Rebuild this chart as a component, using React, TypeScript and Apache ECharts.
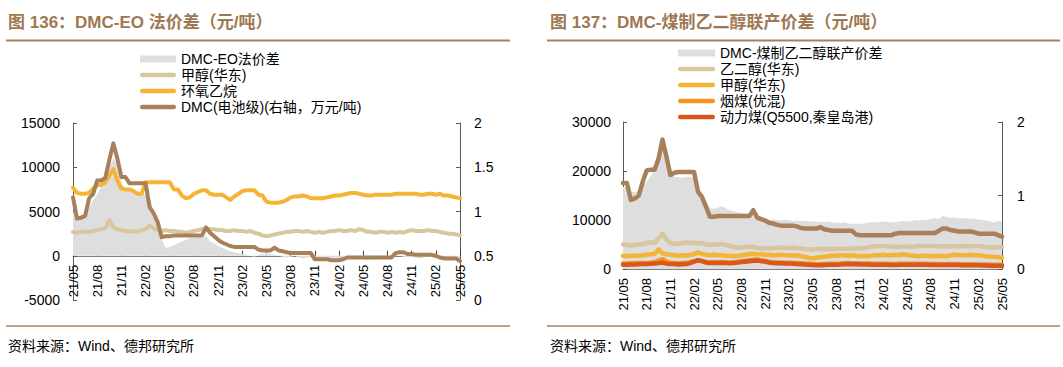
import React, { useEffect, useRef } from "react";
import * as echarts from "echarts";

const FONT = '"Liberation Sans", Arial, "Noto Sans CJK SC", sans-serif';
const TITLE_COLOR = "#9e7852";
const RULE_COLOR = "#a8825e";

// Months from 21/05 to 25/05; two observations per month (semi-monthly)
const startYear = 2021;
const startMonth = 5;
const monthCount = 49;
const categories: string[] = [];
for (let k = 0; k < monthCount; k++) {
  const m0 = startMonth - 1 + k;
  const yy = String((startYear + Math.floor(m0 / 12)) % 100).padStart(2, "0");
  const mm = String((m0 % 12) + 1).padStart(2, "0");
  categories.push(`${yy}/${mm}-1`);
  if (k < monthCount - 1) categories.push(`${yy}/${mm}-2`);
}

// ---------- Left chart: DMC-EO ----------
const leftSpread = [
  5000, 4200, 4300, 4500, 5500, 6300, 6900, 7800, 9000, 10000, 11000, 10500,
  8200, 7600, 7400, 7400, 7300, 7100, 6900, 6700, 4800, 3700, 1800, 900,
  1000, 1200, 1400, 1600, 1800, 2000, 2000, 2100, 2000, 2300, 1600, 1400,
  1100, 900, 700, 500, 400, 300, 200, 100, 0, -100, 100, 200,
  300, 200, 100, 0, -100, -200, -100, 0, -200, -300, -200, -100,
  -300, -400, -300, -400, -300, -200, -300, -200, -100, -200, -300, -400,
  -300, -500, -400, -300, -200, -100, -200, -100, 100, 0, -100, -200,
  -100, -200, -300, -200, -100, -200, -300, -200, -300, -400, -300, -200,
  -300,
];
const methanol = [
  2700, 2600, 2700, 2700, 2700, 2800, 2900, 3000, 3100, 4000, 3200, 3000,
  2900, 2800, 2700, 2800, 2700, 2900, 3000, 3400, 3100, 2900, 2800, 2900,
  2800, 2800, 2700, 2700, 2600, 2700, 2800, 2900, 3000, 3100, 3000, 3000,
  2900, 2900, 2800, 2800, 2900, 2800, 2800, 2700, 2800, 2600, 2500, 2300,
  2200, 2300, 2400, 2500, 2600, 2700, 2700, 2800, 2800, 2700, 2800, 2700,
  2600, 2700, 2600, 2700, 2800, 2800, 2900, 2800, 2800, 2900, 2800, 3000,
  2900, 2700, 2700, 2600, 2700, 2700, 2600, 2700, 2600, 2700, 2600, 2800,
  2900, 2800, 2800, 2800, 2900, 2800, 2800, 2700, 2600, 2500, 2500, 2400,
  2300,
];
const ethyleneOxide = [
  7700, 7100, 7000, 7000, 7100, 7600, 8000, 8000, 8300, 9000, 9800, 8500,
  7600, 7500, 7500, 7300, 7000, 7000, 8300, 8300, 8300, 8300, 8300, 8300,
  8300, 7500, 7500, 6800, 6500, 6600, 7000, 7200, 7400, 7400, 7000, 6900,
  6900, 6900, 6600, 6300, 6700, 7000, 7300, 7400, 7400, 7400, 6900, 6800,
  6100, 6000, 6000, 6000, 6100, 6300, 6600, 6700, 6700, 6800, 6700, 6500,
  6500, 6500, 6500, 6600, 6700, 6800, 6800, 6900, 7000, 7100, 7100, 7000,
  6900, 6800, 6800, 6900, 6900, 6900, 6900, 6900, 7000, 7000, 7000, 7000,
  7000, 7000, 6900, 6900, 7000, 7000, 6900, 7000, 6800, 6800, 6700, 6600,
  6500,
];
const leftDMC = [
  1.16, 0.92, 0.93, 0.95, 1.15, 1.2, 1.35, 1.35, 1.38, 1.58, 1.77, 1.6,
  1.39, 1.39, 1.32, 1.32, 1.32, 1.32, 1.32, 1.05, 0.98, 0.88, 0.71, 0.72,
  0.72, 0.73, 0.73, 0.73, 0.73, 0.73, 0.73, 0.73, 0.73, 0.82, 0.76, 0.72,
  0.68, 0.65, 0.63, 0.61, 0.6, 0.6, 0.6, 0.6, 0.6, 0.6, 0.57, 0.56,
  0.56, 0.56, 0.59, 0.56, 0.55, 0.54, 0.53, 0.53, 0.53, 0.53, 0.53, 0.53,
  0.46, 0.46, 0.46, 0.46, 0.45, 0.45, 0.45, 0.46, 0.48, 0.48, 0.48, 0.48,
  0.48, 0.48, 0.48, 0.48, 0.48, 0.48, 0.48, 0.48, 0.53, 0.54, 0.54, 0.52,
  0.52, 0.51, 0.51, 0.51, 0.51, 0.51, 0.5, 0.48, 0.47, 0.47, 0.47, 0.47,
  0.44,
];

// ---------- Right chart: DMC-coal-based EG ----------
const rightSpread = [
  16800, 16500, 15800, 15600, 16000, 17000, 17800, 19000, 20500, 22000, 24300, 23500,
  20000, 18800, 18800, 18600, 18800, 18800, 18700, 17500, 15000, 13800, 12500, 12300,
  12500, 12800, 12400, 12000, 11800, 11600, 11500, 11300, 11300, 11200, 11000, 10600,
  10200, 10000, 10100, 10000, 9900, 10000, 10000, 9800, 9900, 9800, 9800, 9700,
  9700, 9700, 9600, 9600, 9700, 9500, 9500, 9400, 9500, 9300, 9200, 9300,
  9200, 9300, 9500, 9600, 9500, 9600, 9700, 9600, 9500, 9600, 9700, 9800,
  9700, 9800, 10000, 9900, 10100, 10000, 10200, 10400, 10200, 10800, 10600, 10400,
  10500, 10300, 10400, 10300, 10200, 10300, 10100, 10000, 9900, 9700, 9500, 9800,
  9700,
];
const ethyleneGlycol = [
  5000, 4900, 4800, 4900, 5000, 5100, 5300, 5400, 5300, 6200, 7200, 6000,
  5300, 5100, 5200, 5300, 5400, 5300, 5400, 5200, 5300, 5000, 4900, 5000,
  5000, 5100, 4900, 4700, 4500, 4300, 4400, 4500, 4600, 4500, 4300, 4200,
  4200, 4300, 4200, 4300, 4400, 4300, 4300, 4400, 4300, 4200, 4100, 4000,
  4000, 4100, 4100, 4000, 4100, 4100, 4100, 4200, 4100, 4100, 4200, 4200,
  4200, 4300, 4400, 4600, 4700, 4700, 4700, 4600, 4600, 4500, 4500, 4600,
  4600, 4500, 4600, 4700, 4700, 4700, 4700, 4700, 4600, 4700, 4600, 4600,
  4700, 4600, 4700, 4700, 4600, 4700, 4700, 4600, 4500, 4400, 4400, 4500,
  4500,
];
const bituminousCoal = [
  1100, 1100, 1150, 1150, 1200, 1250, 1250, 1300, 1400, 1700, 2000, 1500,
  1250, 1200, 1150, 1200, 1250, 1400, 1600, 1750, 1650, 1450, 1400, 1400,
  1400, 1450, 1400, 1350, 1400, 1500, 1600, 1700, 1800, 1900, 1950, 1800,
  1700, 1500, 1400, 1350, 1350, 1300, 1300, 1250, 1200, 1150, 1100, 1050,
  1000, 950, 980, 1020, 1050, 1070, 1080, 1100, 1150, 1200, 1180, 1150,
  1100, 1120, 1100, 1080, 1070, 1060, 1050, 1050, 1020, 1020, 1050, 1060,
  1080, 1080, 1070, 1060, 1050, 1050, 1040, 1030, 1020, 1030, 1040, 1030,
  1020, 1000, 980, 960, 960, 950, 940, 920, 900, 880, 860, 850,
  840,
];
const thermalCoal = [
  850, 850, 900, 900, 950, 1000, 1000, 1050, 1100, 1200, 1300, 1100,
  1000, 1000, 900, 950, 1000, 1200, 1500, 1800, 1600, 1300, 1200, 1200,
  1200, 1250, 1200, 1150, 1200, 1300, 1400, 1500, 1600, 1700, 1750, 1600,
  1500, 1300, 1200, 1150, 1150, 1100, 1100, 1050, 1000, 950, 900, 850,
  800, 750, 780, 820, 850, 870, 880, 900, 950, 1000, 980, 950,
  900, 920, 900, 880, 870, 860, 850, 850, 820, 820, 850, 860,
  880, 880, 870, 860, 850, 850, 840, 830, 820, 830, 840, 830,
  820, 800, 780, 760, 760, 750, 740, 720, 700, 680, 660, 650,
  640,
];
const rightDMC = [
  1.17, 1.17, 0.94, 0.96, 1.0, 1.19, 1.34, 1.35, 1.35, 1.5, 1.76, 1.53,
  1.28, 1.31, 1.32, 1.32, 1.32, 1.32, 1.32, 1.05, 0.98, 0.85, 0.71, 0.71,
  0.72, 0.72, 0.72, 0.72, 0.72, 0.72, 0.72, 0.72, 0.72, 0.8, 0.7, 0.68,
  0.66, 0.63, 0.62, 0.6, 0.59, 0.59, 0.59, 0.59, 0.58, 0.56, 0.55, 0.55,
  0.55, 0.55, 0.57, 0.54, 0.53, 0.52, 0.52, 0.52, 0.52, 0.52, 0.52, 0.47,
  0.46, 0.46, 0.46, 0.46, 0.46, 0.46, 0.46, 0.46, 0.46, 0.48, 0.49, 0.49,
  0.49, 0.49, 0.49, 0.49, 0.49, 0.49, 0.49, 0.49, 0.52, 0.55, 0.55, 0.53,
  0.52, 0.51, 0.51, 0.51, 0.51, 0.5, 0.48, 0.48, 0.48, 0.48, 0.48, 0.46,
  0.44,
];

const AREA_ICON = "path://M0,0L36,0L36,7L0,7Z";
const LINE_ICON =
  "path://M2.25,0L33.75,0A2.25,2.25,0,0,1,33.75,4.5L2.25,4.5A2.25,2.25,0,0,1,2.25,0Z";

function xAxisCfg(offset: number) {
  return {
    type: "category",
    data: categories,
    boundaryGap: false,
    position: "bottom",
    offset,
    axisLine: { onZero: false, lineStyle: { color: "#808080", width: 1 } },
    axisTick: { show: true, inside: true, interval: 5, length: 5, lineStyle: { color: "#404040" } },
    axisLabel: {
      interval: 5,
      rotate: 90,
      fontSize: 13,
      color: "#000",
      margin: 9,
      fontFamily: FONT,
      formatter: (v: string) => v.slice(0, 5),
    },
    splitLine: { show: false },
  };
}

function yAxisCfg(min: number, max: number, interval: number, position: string, margin: number) {
  return {
    type: "value",
    min,
    max,
    interval,
    position,
    axisLine: { show: true, lineStyle: { color: "#595959", width: 1 } },
    axisTick: { show: true, inside: true, length: 4, lineStyle: { color: "#595959" } },
    axisLabel: {
      fontSize: 14,
      color: "#000",
      margin,
      fontFamily: FONT,
      formatter: (v: number) => String(v),
    },
    splitLine: { show: false },
  };
}

function lineSeries(name: string, data: number[], color: string, yAxisIndex: number, width: number) {
  return {
    name,
    type: "line",
    data,
    yAxisIndex,
    symbol: "none",
    showSymbol: false,
    color,
    itemStyle: { color },
    lineStyle: { color, width, cap: "round", join: "round" },
    z: 3,
  };
}

function areaSeries(name: string, data: number[], color: string) {
  return {
    name,
    type: "line",
    data,
    yAxisIndex: 0,
    symbol: "none",
    showSymbol: false,
    color,
    itemStyle: { color },
    lineStyle: { width: 0, color },
    areaStyle: { color, opacity: 1, origin: 0 },
    z: 1,
  };
}

function frameGraphics(title: string, x0: number, x1: number, tx: number) {
  return [
    {
      type: "text",
      x: tx,
      y: 22,
      style: {
        text: title,
        fill: TITLE_COLOR,
        fontSize: 17,
        fontWeight: "bold",
        fontFamily: FONT,
        verticalAlign: "middle",
        align: "left",
      },
    },
    {
      type: "line",
      shape: { x1: x0, y1: 40.5, x2: x1, y2: 40.5 },
      style: { stroke: RULE_COLOR, lineWidth: 2 },
    },
    {
      type: "line",
      shape: { x1: x0, y1: 326, x2: x1, y2: 326 },
      style: { stroke: RULE_COLOR, lineWidth: 1.5 },
    },
    {
      type: "text",
      x: tx,
      y: 346,
      style: {
        text: "资料来源：Wind、德邦研究所",
        fill: "#000",
        fontSize: 14,
        fontFamily: FONT,
        verticalAlign: "middle",
        align: "left",
      },
    },
  ];
}

function legendCfg(left: number, top: number, itemWidth: number, names: string[]) {
  return {
    orient: "vertical",
    left,
    top,
    padding: 0,
    itemWidth,
    itemHeight: 14,
    itemGap: 2,
    selectedMode: false,
    textStyle: { fontSize: 14, color: "#000", fontFamily: FONT },
    data: names.map((n, i) => ({ name: n, icon: i === 0 ? AREA_ICON : LINE_ICON })),
  };
}

const leftOption = {
  animation: false,
  textStyle: { fontFamily: FONT },
  grid: { left: 73, top: 123, width: 387, height: 177, containLabel: false },
  xAxis: xAxisCfg(-44.25),
  yAxis: [yAxisCfg(-5000, 15000, 5000, "left", 13), yAxisCfg(0, 2, 0.5, "right", 14)],
  legend: legendCfg(140, 52, 36, [
    "DMC-EO法价差",
    "甲醇(华东)",
    "环氧乙烷",
    "DMC(电池级)(右轴，万元/吨)",
  ]),
  series: [
    areaSeries("DMC-EO法价差", leftSpread, "#dedede"),
    lineSeries("甲醇(华东)", methanol, "#d9c59e", 0, 4),
    lineSeries("环氧乙烷", ethyleneOxide, "#f5b435", 0, 4),
    lineSeries("DMC(电池级)(右轴，万元/吨)", leftDMC, "#a8805a", 1, 4),
  ],
  graphic: frameGraphics("图 136：DMC-EO 法价差（元/吨）", 6, 510, 8),
};

const rightOption = {
  animation: false,
  textStyle: { fontFamily: FONT },
  grid: { left: 92, top: 122, width: 379, height: 147, containLabel: false },
  xAxis: xAxisCfg(0),
  yAxis: [yAxisCfg(0, 30000, 10000, "left", 12), yAxisCfg(0, 2, 1, "right", 15)],
  legend: legendCfg(147, 46, 37, [
    "DMC-煤制乙二醇联产价差",
    "乙二醇(华东)",
    "甲醇(华东)",
    "烟煤(优混)",
    "动力煤(Q5500,秦皇岛港)",
  ]),
  series: [
    areaSeries("DMC-煤制乙二醇联产价差", rightSpread, "#dedede"),
    lineSeries("乙二醇(华东)", ethyleneGlycol, "#d9c59e", 0, 4.5),
    lineSeries("甲醇(华东)", methanol, "#f5b435", 0, 4.5),
    lineSeries("烟煤(优混)", bituminousCoal, "#f7931e", 0, 4.5),
    lineSeries("动力煤(Q5500,秦皇岛港)", thermalCoal, "#d9561c", 0, 4.5),
    lineSeries("DMC(电池级)", rightDMC, "#a8805a", 1, 4.5),
  ],
  graphic: frameGraphics("图 137：DMC-煤制乙二醇联产价差（元/吨）", 16, 529, 19),
};

function Chart({ option, left, width }: { option: any; left: number; width: number }) {
  const ref = useRef<HTMLDivElement>(null);
  useEffect(() => {
    if (!ref.current) return;
    const chart = echarts.init(ref.current, undefined, { renderer: "svg" });
    chart.setOption(option);
    return () => chart.dispose();
  }, [option]);
  return (
    <div
      ref={ref}
      style={{ position: "absolute", left, top: 0, width, height: 367, background: "#fff" }}
    />
  );
}

export default function App() {
  return (
    <div style={{ position: "fixed", left: 0, top: 0, width: 1063, height: 367, background: "#fff" }}>
      <Chart option={leftOption} left={0} width={531} />
      <Chart option={rightOption} left={531} width={532} />
    </div>
  );
}
